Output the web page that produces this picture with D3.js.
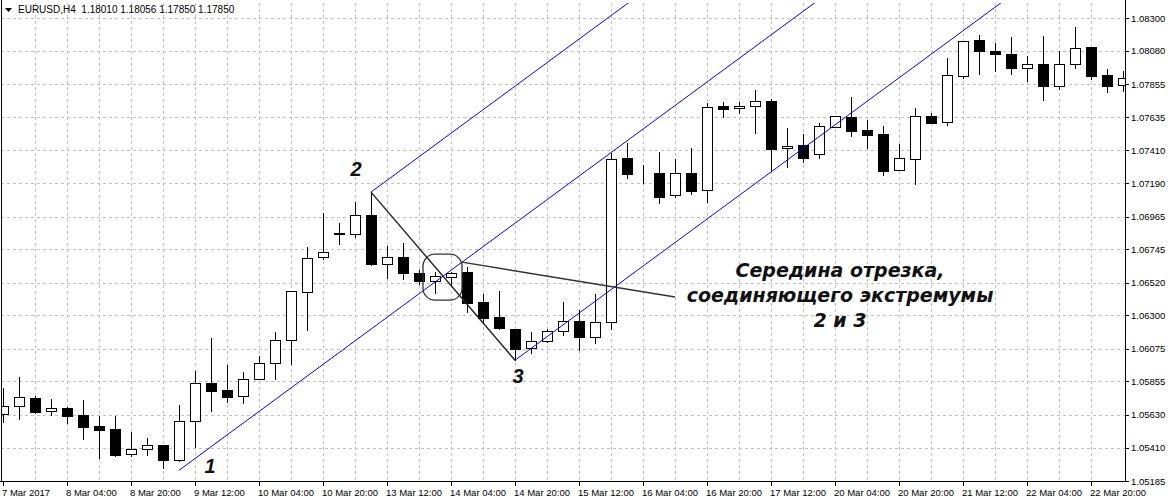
<!DOCTYPE HTML>
<html>
  <head>
    <meta charset="utf-8">
    <style>
	body { margin: 0; background: #ffffff; }
	svg { display: block; }
	.lbl { font-family: "Liberation Sans", Arial, sans-serif; font-size: 9.5px; fill: #000000; }
	.hdr { font-family: "Liberation Sans", Arial, sans-serif; font-size: 10px; fill: #000000; }
	.mark { font-family: "Liberation Sans", Arial, sans-serif; font-size: 20px; font-weight: bold; font-style: italic; fill: #111111; }
	.note { font-family: "DejaVu Sans", sans-serif; font-size: 19px; font-weight: bold; font-style: italic; fill: #111111; }
	</style>
  </head>
  <body>

	<script type="text/javascript" src="https://cdn.jsdelivr.net/npm/d3@7"></script>

    <script>

		// *** DATA ***

		var header = 'EURUSD,H4  1.18010 1.18056 1.17850 1.17850';

		// H4 bars, left to right
		var opens  = [1.05634, 1.05688, 1.05742, 1.05654, 1.05674, 1.05627, 1.05553, 1.05533, 1.05364, 1.05398,
		              1.05425, 1.05324, 1.05587, 1.05843, 1.05796, 1.05755, 1.05870, 1.05978, 1.06132, 1.06456,
		              1.06692, 1.06850, 1.06847, 1.06975, 1.06644, 1.06692, 1.06584, 1.06530, 1.06557, 1.06591,
		              1.06388, 1.06287, 1.06206, 1.06079, 1.06126, 1.06193, 1.06260, 1.06153, 1.06254, 1.07359,
		              1.07251, 1.07258, 1.07109, 1.07258, 1.07143, 1.07709, 1.07695, 1.07709, 1.07743, 1.07426,
		              1.07446, 1.07386, 1.07567, 1.07635, 1.07547, 1.07520, 1.07278, 1.07352, 1.07642, 1.07601,
		              1.07911, 1.08154, 1.08079, 1.08059, 1.07965, 1.07992, 1.07844, 1.07992, 1.08106, 1.07918,
		              1.07850];
		var highs  = [1.05809, 1.05883, 1.05755, 1.05735, 1.05681, 1.05728, 1.05620, 1.05620, 1.05513, 1.05472,
		              1.05425, 1.05695, 1.05924, 1.06146, 1.05964, 1.05917, 1.06025, 1.06186, 1.06463, 1.06759,
		              1.06988, 1.06921, 1.07062, 1.07130, 1.06766, 1.06786, 1.06604, 1.06591, 1.06591, 1.06624,
		              1.06442, 1.06463, 1.06206, 1.06186, 1.06206, 1.06388, 1.06335, 1.06442, 1.07392, 1.07460,
		              1.07311, 1.07399, 1.07352, 1.07426, 1.07729, 1.07736, 1.07736, 1.07817, 1.07756, 1.07561,
		              1.07520, 1.07594, 1.07642, 1.07770, 1.07615, 1.07574, 1.07453, 1.07695, 1.07662, 1.08032,
		              1.08147, 1.08187, 1.08133, 1.08174, 1.08046, 1.08180, 1.08079, 1.08241, 1.08106, 1.07958,
		              1.07945];
		var lows   = [1.05580, 1.05600, 1.05641, 1.05627, 1.05573, 1.05465, 1.05337, 1.05351, 1.05351, 1.05358,
		              1.05270, 1.05317, 1.05412, 1.05654, 1.05715, 1.05708, 1.05870, 1.05870, 1.05971, 1.06200,
		              1.06678, 1.06779, 1.06826, 1.06638, 1.06550, 1.06543, 1.06510, 1.06449, 1.06503, 1.06321,
		              1.06247, 1.06206, 1.05998, 1.06045, 1.06119, 1.06166, 1.06065, 1.06112, 1.06206, 1.07224,
		              1.07190, 1.07055, 1.07096, 1.07116, 1.07062, 1.07635, 1.07662, 1.07527, 1.07271, 1.07298,
		              1.07332, 1.07359, 1.07567, 1.07507, 1.07426, 1.07244, 1.07278, 1.07183, 1.07594, 1.07581,
		              1.07898, 1.07924, 1.07945, 1.07924, 1.07877, 1.07749, 1.07823, 1.07965, 1.07891, 1.07803,
		              1.07810];
		var closes = [1.05688, 1.05748, 1.05647, 1.05674, 1.05620, 1.05546, 1.05526, 1.05358, 1.05398, 1.05425,
		              1.05324, 1.05587, 1.05843, 1.05789, 1.05748, 1.05870, 1.05978, 1.06132, 1.06463, 1.06685,
		              1.06725, 1.06853, 1.06975, 1.06644, 1.06692, 1.06584, 1.06530, 1.06564, 1.06584, 1.06382,
		              1.06281, 1.06213, 1.06072, 1.06126, 1.06193, 1.06260, 1.06153, 1.06254, 1.07352, 1.07251,
		              1.07251, 1.07096, 1.07258, 1.07136, 1.07702, 1.07689, 1.07709, 1.07743, 1.07419, 1.07439,
		              1.07359, 1.07574, 1.07642, 1.07541, 1.07514, 1.07271, 1.07359, 1.07642, 1.07594, 1.07918,
		              1.08147, 1.08079, 1.08059, 1.07965, 1.07992, 1.07844, 1.07992, 1.08100, 1.07911, 1.07844,
		              1.07898];

		// time axis labels, one every 4 bars
		var timeLabels = ['7 Mar 2017', '8 Mar 04:00', '8 Mar 20:00', '9 Mar 12:00', '10 Mar 04:00', '10 Mar 20:00',
		                  '13 Mar 12:00', '14 Mar 04:00', '14 Mar 20:00', '15 Mar 12:00', '16 Mar 04:00', '16 Mar 20:00',
		                  '17 Mar 12:00', '20 Mar 04:00', '20 Mar 20:00', '21 Mar 12:00', '22 Mar 04:00', '22 Mar 20:00'];

		// price axis labels
		var priceLabels = ['1.08300', '1.08080', '1.07855', '1.07635', '1.07410', '1.07190', '1.06965', '1.06745',
		                   '1.06520', '1.06300', '1.06075', '1.05855', '1.05630', '1.05410', '1.05185'];

		// pitchfork anchors: points 1, 2, 3 (bar index, price)
		var pfBars   = [11, 23, 32];
		var pfPrices = [1.05257, 1.07130, 1.05998];
		var pfNames  = ['1', '2', '3'];

		// callout text
		var noteLines = ['Середина отрезка,', 'соединяющего экстремумы', '2 и 3'];

		// *** LAYOUT ***

		var W = 1168, H = 504;
		var plotL = 1, plotT = 3, plotR = 1125, plotB = 481;

		var xs = d3.scaleLinear().domain([0, 70]).range([3, 1123]);
		var ys = d3.scaleLinear().domain([1.05185, 1.08300]).range([481, 18.3]);

		function px(v){ return Math.round(v) + 0.5; }

		var svg = d3.select('body').append('svg')
			.attr('width', W)
			.attr('height', H);

		svg.append('defs').append('clipPath')
			.attr('id', 'plotclip')
			.append('rect')
			.attr('x', plotL).attr('y', plotT)
			.attr('width', plotR - plotL).attr('height', plotB - plotT);

		// GRID
		var grid = svg.append('g');

		grid.selectAll('line.hg').data(priceLabels)
		.enter().append('line')
			.attr('x1', plotL).attr('x2', plotR)
			.attr('y1', function(d){ return px(ys(+d)); })
			.attr('y2', function(d){ return px(ys(+d)); })
			.style('stroke', '#c0c0c0')
			.style('stroke-dasharray', '3,3');

		var vBars = d3.range(2, 70, 2);
		grid.selectAll('line.vg').data(vBars)
		.enter().append('line')
			.attr('x1', function(d){ return px(xs(d)); })
			.attr('x2', function(d){ return px(xs(d)); })
			.attr('y1', plotT).attr('y2', plotB)
			.style('stroke', '#c0c0c0')
			.style('stroke-dasharray', '3,3');

		// PLOT CONTENT (clipped)
		var plot = svg.append('g').attr('clip-path', 'url(#plotclip)');

		var bars = d3.range(opens.length);

		// wicks
		plot.selectAll('line.wick').data(bars)
		.enter().append('line')
			.attr('x1', function(i){ return px(xs(i)); })
			.attr('x2', function(i){ return px(xs(i)); })
			.attr('y1', function(i){ return Math.round(ys(highs[i])); })
			.attr('y2', function(i){ return Math.round(ys(lows[i])) + 1; })
			.style('stroke', '#000000')
			.style('stroke-width', 1);

		// bodies
		plot.selectAll('rect.body').data(bars)
		.enter().append('rect')
			.attr('x', function(i){ return Math.round(xs(i)) - 5 + 0.5; })
			.attr('y', function(i){ return px(ys(Math.max(opens[i], closes[i]))); })
			.attr('width', 10)
			.attr('height', function(i){
				var h = Math.round(ys(Math.min(opens[i], closes[i]))) - Math.round(ys(Math.max(opens[i], closes[i])));
				return Math.max(h, 0);
			})
			.style('fill', function(i){ return closes[i] >= opens[i] ? '#ffffff' : '#000000'; })
			.style('stroke', '#000000')
			.style('stroke-width', 1);

		// pitchfork
		var midBar = (pfBars[1] + pfBars[2]) / 2;
		var midPrice = (pfPrices[1] + pfPrices[2]) / 2;
		var slope = (midPrice - pfPrices[0]) / (midBar - pfBars[0]);
		var farBar = 120;

		[0, 1, 2].forEach(function(j){
			plot.append('line')
				.attr('x1', xs(pfBars[j]))
				.attr('y1', ys(pfPrices[j]))
				.attr('x2', xs(farBar))
				.attr('y2', ys(pfPrices[j] + slope * (farBar - pfBars[j])))
				.style('stroke', '#0000ff')
				.style('stroke-width', 1);
		});

		// segment 2-3
		plot.append('line')
			.attr('x1', xs(pfBars[1])).attr('y1', ys(pfPrices[1]))
			.attr('x2', xs(pfBars[2])).attr('y2', ys(pfPrices[2]))
			.style('stroke', '#222222')
			.style('stroke-width', 1.4);

		// box around midpoint and callout line
		var mx = xs(midBar), my = ys(midPrice);
		plot.append('rect')
			.attr('x', mx - 20).attr('y', my - 22)
			.attr('width', 39).attr('height', 46)
			.attr('rx', 12).attr('ry', 12)
			.style('fill', 'none')
			.style('stroke', '#333333')
			.style('stroke-width', 1.3);

		plot.append('line')
			.attr('x1', mx + 19).attr('y1', my - 14)
			.attr('x2', 675).attr('y2', 297)
			.style('stroke', '#333333')
			.style('stroke-width', 1.4);

		// point names
		var nameDx = [31, -15, 3];
		var nameDy = [3, -16, 23];
		plot.selectAll('text.mark').data([0, 1, 2])
		.enter().append('text')
			.attr('class', 'mark')
			.attr('x', function(j){ return xs(pfBars[j]) + nameDx[j]; })
			.attr('y', function(j){ return ys(pfPrices[j]) + nameDy[j]; })
			.attr('text-anchor', 'middle')
			.text(function(j){ return pfNames[j]; });

		// callout text
		svg.selectAll('text.note').data(noteLines)
		.enter().append('text')
			.attr('class', 'note')
			.attr('x', 840)
			.attr('y', function(d, i){ return 277 + i * 25; })
			.attr('text-anchor', 'middle')
			.text(function(d){ return d; });

		// AXES
		svg.append('line')
			.attr('x1', px(plotR)).attr('x2', px(plotR))
			.attr('y1', 0).attr('y2', plotB + 1)
			.style('stroke', '#000000');
		svg.append('line')
			.attr('x1', 0).attr('x2', plotR + 1)
			.attr('y1', px(plotB)).attr('y2', px(plotB))
			.style('stroke', '#000000');
		svg.append('line')
			.attr('x1', 1.5).attr('x2', 1.5)
			.attr('y1', 0).attr('y2', plotB)
			.style('stroke', '#000000');

		// price ticks and labels
		svg.selectAll('line.yt').data(priceLabels)
		.enter().append('line')
			.attr('x1', plotR).attr('x2', plotR + 4)
			.attr('y1', function(d){ return px(ys(+d)); })
			.attr('y2', function(d){ return px(ys(+d)); })
			.style('stroke', '#000000');
		svg.selectAll('text.yl').data(priceLabels)
		.enter().append('text')
			.attr('class', 'lbl')
			.attr('x', plotR + 6)
			.attr('y', function(d){ return ys(+d) + 3.5; })
			.text(function(d){ return d; });

		// time ticks and labels
		svg.selectAll('line.xt').data(timeLabels)
		.enter().append('line')
			.attr('x1', function(d, i){ return px(xs(i * 4)); })
			.attr('x2', function(d, i){ return px(xs(i * 4)); })
			.attr('y1', plotB).attr('y2', plotB + 5)
			.style('stroke', '#000000');
		svg.selectAll('text.xl').data(timeLabels)
		.enter().append('text')
			.attr('class', 'lbl')
			.attr('x', function(d, i){ return xs(i * 4) - 1; })
			.attr('y', 496)
			.text(function(d){ return d; });

		// header
		svg.append('path')
			.attr('d', 'M5,8 L12,8 L8.5,12 Z')
			.style('fill', '#000000');
		svg.append('text')
			.attr('class', 'hdr')
			.attr('x', 18)
			.attr('y', 13)
			.attr('xml:space', 'preserve')
			.style('white-space', 'pre')
			.text(header);

	</script>

  </body>
</html>
